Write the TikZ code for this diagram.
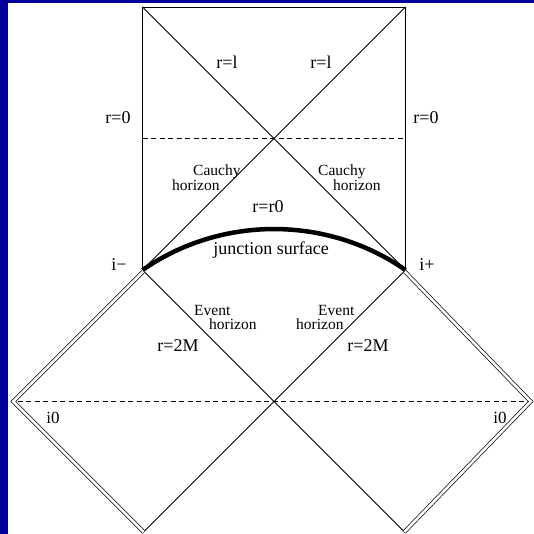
\documentclass[tikz,border=0pt]{standalone}
\usepackage{fontspec}
\setmainfont{Liberation Serif}
\usetikzlibrary{calc}
\definecolor{frameblue}{RGB}{0,0,153}

\begin{document}
\begin{tikzpicture}[x=1pt,y=-1pt,
  lbl/.style={inner sep=0pt,font=\fontsize{18}{18}\selectfont},
  hlbl/.style={inner sep=0pt,anchor=west,align=left,font=\fontsize{15.5}{14}\selectfont},
  edge/.style={line width=0.85pt},
  nullinf/.style={double,double distance=2.6pt,line width=0.7pt,line join=miter},
  slice/.style={line width=0.7pt,dash pattern=on 5pt off 3.5pt},
  junction/.style={line width=4.5pt}]
  \useasboundingbox (0,0) rectangle (534,534);
  \fill[white] (0,0) rectangle (534,534);
  \fill[frameblue] (0,0) rectangle (534,3);
  \fill[frameblue] (0,0) rectangle (7.5,534);
  % corners
  \coordinate (tl) at (142.5,7);
  \coordinate (tr) at (405.5,7);
  \coordinate (im) at (142.5,270);
  \coordinate (ip) at (405.5,270);
  \coordinate (cross) at (274,401.5);
  \coordinate (lv) at (11,401.5);
  \coordinate (rv) at (533,401.5);
  \coordinate (lb) at (142.5,533);
  \coordinate (rb) at (405.5,533);
  % upper region
  \draw[edge] (im) -- (tl) -- (tr) -- (ip);
  \draw[edge] (tl) -- (ip);
  \draw[edge] (tr) -- (im);
  \draw[slice] ($(im)!0.5!(tl)$) -- ($(ip)!0.5!(tr)$);
  % lower region
  \draw[edge] (im) -- (cross) -- (rb);
  \draw[edge] (ip) -- (cross) -- (lb);
  \draw[nullinf] ($(im)+(1.1,1.1)$) -- ($(lv)+(2.3,0)$) -- ($(lb)+(1.1,-1.1)$);
  \draw[nullinf] ($(ip)+(-1.1,1.1)$) -- ($(rv)+(-2.3,0)$) -- ($(rb)+(-1.1,-1.1)$);
  \draw[slice] ($(lv)+(6.6,0)$) -- ($(rv)+(-4.6,0)$);
  % junction surface
  \draw[junction] (im) .. controls +(78.6,-54.6) and +(-78.6,-54.6) .. (ip);
  % labels
  \node[lbl] (rlL) at (227,62) {r=l};
  \node[lbl] (rlR) at (321,62) {r=l};
  \node[lbl] (r0L) at (118,118) {r=0};
  \node[lbl] (r0R) at (426,118) {r=0};
  \node[hlbl] (cauchyL) at (172,178) {\hspace*{21pt}Cauchy\\horizon};
  \node[hlbl] (cauchyR) at (318,178) {Cauchy\\\hspace*{15pt}horizon};
  \node[lbl] (rr0) at (268,207) {r=r0};
  \node[lbl] (js) at (271,250) {junction surface};
  \node[lbl] (iminus) at (119,265) {i−};
  \node[lbl] (iplus) at (427,265) {i+};
  \node[hlbl] (eventL) at (194,317) {Event\\\hspace*{15pt}horizon};
  \node[hlbl] (eventR) at (296,317) {\hspace*{22pt}Event\\horizon};
  \node[lbl] (r2mL) at (178,346) {r=2M};
  \node[lbl] (r2mR) at (368,346) {r=2M};
  \node[lbl,font=\fontsize{17}{17}\selectfont] (i0L) at (53,418) {i0};
  \node[lbl,font=\fontsize{17}{17}\selectfont] (i0R) at (500,418) {i0};
\end{tikzpicture}
\end{document}
